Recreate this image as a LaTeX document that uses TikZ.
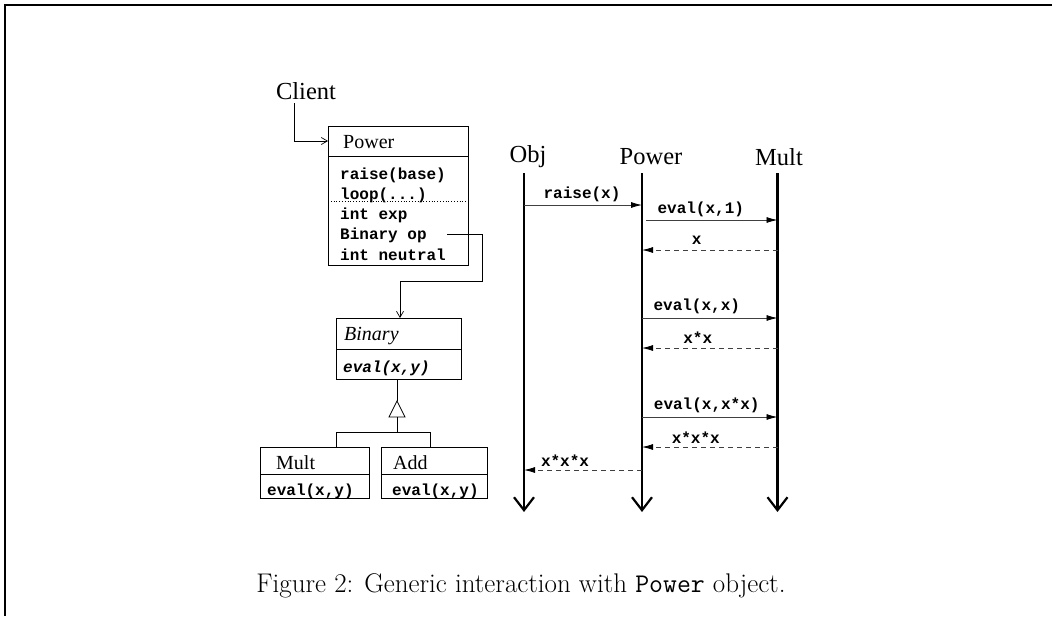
\documentclass[tikz,border=0pt]{standalone}
\usepackage{fontspec}
\usetikzlibrary{arrows.meta}
\newfontfamily\tms{Liberation Serif}
\newfontfamily\cour{Liberation Mono}
\begin{document}
\begin{tikzpicture}[x=1pt,y=-1pt,
  boxst/.style={draw, line width=0.8pt, inner sep=0, anchor=north west},
  clsname/.style={font=\tms\fontsize{20}{24}\selectfont, anchor=west, inner sep=0},
  meth/.style={font=\cour\bfseries\fontsize{16}{19}\selectfont, anchor=west, inner sep=0},
  head/.style={font=\tms\fontsize{24.5}{29}\selectfont, inner sep=0},
  lbl/.style={font=\cour\bfseries\fontsize{16}{19}\selectfont, inner sep=0},
  life/.style={line width=2.4pt, -{Straight Barb[length=13pt,width=20pt,line width=2.2pt]}},
  msg/.style={line width=0.8pt, draw=black!75, -{Latex[length=11pt,width=6pt,color=black]}},
  ret/.style={msg, dash pattern=on 5pt off 4pt},
  assoc/.style={line width=0.8pt, -{Straight Barb[length=6pt,width=7pt,line width=0.7pt]}}
]
\useasboundingbox (0,0) rectangle (1052,616);
\draw[line width=2pt] (5,616) -- (5,5) -- (1052,5);

% ---------- class diagram ----------
\node[head, anchor=center] (client) at (306,91) {Client};

\node[boxst, minimum width=140pt, minimum height=139pt] (powerbox) at (328,126) {};
\node[boxst, minimum width=140pt, minimum height=30pt] (powerhdr) at (328,126) {};
\draw[dotted, line width=0.8pt] (328,201.5) -- (468,201.5);
\node[clsname] (pname) at (343,142) {Power};
\node[meth] (m1) at (340,175) {raise(base)};
\node[meth] (m2) at (340,195) {loop(...)};
\node[meth] (m3) at (340,215) {int exp};
\node[meth] (m4) at (340,235) {Binary op};
\node[meth] (m5) at (340,255) {int neutral};

\node[boxst, minimum width=125pt, minimum height=61pt] (binbox) at (336,318) {};
\node[boxst, minimum width=125pt, minimum height=31pt] (binhdr) at (336,318) {};
\node[clsname, font=\tms\itshape\fontsize{20}{24}\selectfont] (bname) at (344,336) {Binary};
\node[meth, font=\cour\bfseries\itshape\fontsize{16}{19}\selectfont] (bm) at (343,368) {eval(x,y)};

\node[boxst, minimum width=109pt, minimum height=51pt] (multbox) at (260,447) {};
\node[boxst, minimum width=109pt, minimum height=27pt] (multhdr) at (260,447) {};
\node[clsname] (mname) at (276,463) {Mult};
\node[meth] (mm) at (267,491) {eval(x,y)};

\node[boxst, minimum width=106pt, minimum height=51pt] (addbox) at (381,447) {};
\node[boxst, minimum width=106pt, minimum height=27pt] (addhdr) at (381,447) {};
\node[clsname] (aname) at (393,463) {Add};
\node[meth] (am) at (392,491) {eval(x,y)};

% client -> Power
\coordinate (cl1) at (294,103);
\draw[assoc] (cl1) |- (powerhdr.west |- 0,141);
% Binary op -> Binary
\coordinate (op1) at (447,234);
\coordinate (op2) at (482,234);
\coordinate (op3) at (482,281);
\coordinate (op4) at (400,281);
\draw[line width=0.8pt] (op1) -- (op2) -- (op3) -- (op4);
\draw[assoc] (op4) -- (op4 |- binbox.north);

% inheritance
\coordinate (tip) at (397,401);
\coordinate (tbl) at (389,417);
\coordinate (tbr) at (405,417);
\coordinate (junc) at (397,432);
\draw[line width=0.8pt] (binbox.south -| tip) -- (tip);
\draw[line width=0.8pt] (tip) -- (tbl) -- (tbr) -- cycle;
\draw[line width=0.8pt] (397,417) -- (junc);
\coordinate (jl) at (336,432);
\coordinate (jr) at (430,432);
\draw[line width=0.8pt] (multbox.north -| jl) -- (jl) -- (jr) -- (addbox.north -| jr);

% ---------- sequence diagram ----------
\node[head] (objh) at (528,157) {Obj};
\node[head] (powh) at (651,157) {Power};
\node[head] (multh) at (779,157) {Mult};

\coordinate (objt) at (524,173);
\coordinate (objb) at (524,512);
\coordinate (powt) at (642,173);
\coordinate (powb) at (642,512);
\coordinate (mult) at (777.5,173);
\coordinate (multb) at (777.5,512);
\draw[life] (objt) -- (objb);
\draw[life] (powt) -- (powb);
\draw[life] (mult) -- (multb);

\draw[msg] (objt |- 0,205) -- node[lbl, above=3pt, xshift=-1pt] {raise(x)} (powt |- 0,205);
\draw[msg] (646,220) -- node[lbl, above=3pt, xshift=-11pt] {eval(x,1)} (mult |- 0,220);
\draw[ret] (mult |- 0,250) -- node[lbl, above=5pt, xshift=-13pt] {x} (powt |- 0,250);
\draw[msg] (powt |- 0,318) -- node[lbl, above=4pt, xshift=-13pt] {eval(x,x)} (mult |- 0,318);
\draw[ret] (mult |- 0,348) -- node[lbl, above=4pt, xshift=-12pt] {x*x} (powt |- 0,348);
\draw[msg] (powt |- 0,417) -- node[lbl, above=4pt, xshift=-3pt] {eval(x,x*x)} (mult |- 0,417);
\draw[ret] (mult |- 0,447) -- node[lbl, above=3pt, xshift=-14pt] {x*x*x} (powt |- 0,447);
\draw[ret] (powt |- 0,470) -- node[lbl, above=3pt, xshift=-18pt] {x*x*x} (objt |- 0,470);

% ---------- caption ----------
\node[font=\fontsize{27}{32}\selectfont, inner sep=0, anchor=base] (cap) at (521,592)
  {Figure 2: Generic interaction with \texttt{Power} object.};
\end{tikzpicture}
\end{document}
